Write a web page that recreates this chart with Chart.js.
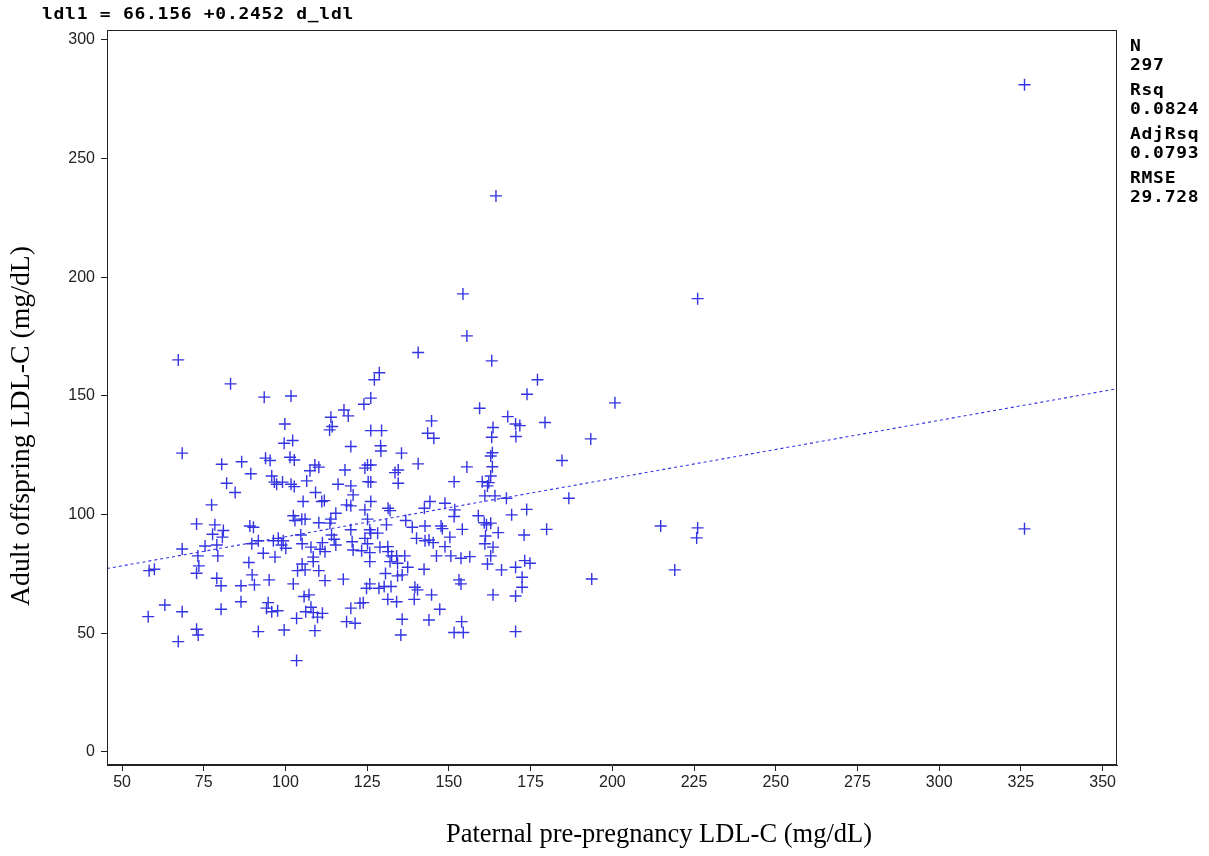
<!DOCTYPE html>
<html>
<head>
<meta charset="utf-8">
<script src="https://cdn.jsdelivr.net/npm/chart.js@4/dist/chart.umd.min.js"></script>
<style>
  html, body { margin: 0; padding: 0; background: #fff; }
  #plot { display: block; }
</style>
</head>
<body>
<canvas id="plot" width="1209" height="856"></canvas>
<script>
// Paternal pre-pregnancy LDL-C (x) and adult offspring LDL-C (y), mg/dL
const paternalLDL = [
  67.2, 83.2,
  93.5, 101.7, 117.9, 119.2, 113.9, 99.8, 114.3, 113.5, 102.2, 99.6, 120.0,
  140.6, 128.7, 127.2, 126.1, 124.0, 144.7, 143.5, 145.4, 126.1, 129.4, 129.1,
  163.1, 177.1, 173.9, 159.4, 168.0, 170.4, 171.7, 179.4, 163.5, 163.1, 170.5,
  68.4, 80.5, 86.6, 82.0, 84.6, 77.4, 72.8, 78.4, 81.0, 77.7, 80.7, 79.0, 75.4, 68.4, 73.2, 79.3,
  93.9, 95.3, 101.4, 102.7, 109.0, 110.2, 107.5, 118.2, 89.4, 95.8, 96.6, 97.3, 99.1, 101.7, 102.7,
  106.5, 116.1, 120.0, 109.2, 120.7, 105.4, 111.1, 111.9, 118.7, 120.0, 102.4, 102.9, 105.0, 106.0,
  113.9, 110.2, 115.4, 113.6, 89.1, 90.2, 120.0, 114.1, 104.7, 114.9, 91.7, 96.3, 97.8, 99.3, 98.8,
  89.7, 105.1, 107.8, 111.3, 115.4, 120.4, 100.1, 110.6, 112.1, 93.2, 96.8, 108.5, 120.7,
  129.2, 135.5, 125.1, 126.1, 124.3, 134.5, 133.5, 140.6, 125.3, 126.1, 134.5, 151.6,
  126.1, 131.4, 132.0, 124.3, 144.2, 148.8, 142.5, 151.8, 151.6, 125.1, 136.8, 147.6, 148.0, 142.7,
  154.1, 130.9, 138.8, 125.8, 126.1, 128.2, 140.1, 142.7, 143.9, 145.2, 150.3, 124.3, 125.1, 128.9,
  131.3, 148.8, 123.3, 125.8, 131.4, 132.5, 134.0, 136.5, 146.2, 150.6, 153.7,
  163.3, 162.8, 184.6, 155.5, 163.3, 162.8, 160.2, 162.2, 161.8, 161.0, 164.1, 167.6, 186.7, 159.0,
  169.2, 173.8, 160.8, 161.5, 162.8, 165.1, 179.9, 173.0, 161.2, 161.0, 163.5, 162.8, 156.4,
  58.3, 59.9, 73.5, 72.8, 79.0, 80.3, 86.4, 86.4, 63.1, 68.4, 80.3, 58.0, 72.8, 73.3, 67.2,
  88.8, 89.8, 90.5, 95.0, 102.4, 103.7, 106.0, 105.1, 108.5, 110.2, 112.1, 117.7, 105.7, 107.2, 94.7,
  94.2, 95.8, 97.6, 103.4, 106.2, 107.8, 108.5, 109.8, 111.3, 120.0, 118.7, 91.7, 99.6, 109.0, 103.4,
  125.8, 132.0, 134.3, 137.4, 142.4, 130.6, 134.3, 135.7, 125.8, 124.8, 128.6, 130.2, 132.3, 139.6,
  140.4, 144.7, 153.1, 153.7, 139.4, 131.3, 134.0, 122.8, 123.8, 147.2, 135.7, 143.9, 153.9, 121.3,
  151.6, 154.4, 135.3,
  161.8, 166.1, 170.4, 173.2, 174.8, 172.4, 172.4, 163.5, 170.4, 170.4,
  326.1, 164.4, 154.3, 155.5, 226.1, 200.8, 193.4, 214.8, 226.1, 225.8, 219.1, 193.7, 326.1
];
const offspringLDL = [
  165.2, 155.1,
  149.5, 150.0, 144.1, 141.6, 141.0, 138.2, 137.1, 135.7, 131.2, 130.1, 128.7,
  168.3, 159.8, 156.8, 149.1, 146.5, 139.5, 134.3, 132.2, 135.4, 135.4, 129.0,
  164.8, 156.8, 150.7, 144.8, 141.3, 138.2, 137.5, 138.8, 136.7, 132.6, 132.9,
  125.9, 121.2, 122.3, 113.2, 109.3, 104.1, 96.1, 95.7, 93.3, 91.7, 90.5, 87.2, 86.8, 85.5, 82.6, 82.6,
  123.8, 122.8, 124.2, 123.0, 120.9, 120.0, 118.5, 118.8, 117.2, 116.3, 113.7, 112.8, 113.7, 112.8, 111.8,
  114.2, 112.8, 112.1, 109.3, 108.3, 105.5, 105.5, 105.9, 104.1, 103.7, 99.5, 97.5, 98.1, 98.1,
  98.1, 96.6, 100.6, 96.4, 95.2, 94.7, 93.6, 91.4, 91.4, 89.6, 89.0, 89.0, 90.0, 89.0, 87.2,
  87.7, 87.7, 86.3, 88.2, 87.2, 88.6, 85.8, 85.4, 84.4, 83.7, 82.1, 82.1, 85.1,
  126.8, 125.9, 120.9, 120.9, 119.6, 118.8, 117.7, 121.4, 113.9, 113.7, 113.2, 113.9,
  105.5, 102.7, 101.7, 102.0, 105.5, 104.8, 102.7, 102.0, 99.2, 98.1, 97.5, 95.2, 94.1, 95.2,
  93.8, 95.7, 94.7, 93.6, 92.2, 92.2, 90.0, 89.0, 89.3, 88.2, 90.5, 90.0, 87.7, 86.3,
  86.5, 86.5, 84.8, 84.0, 84.4, 82.6, 82.6, 82.6, 82.6, 82.6, 81.6,
  126.1, 124.7, 122.8, 120.1, 120.2, 116.3, 113.9, 113.5, 112.1, 107.9, 107.9, 106.9, 106.9, 99.5,
  99.9, 102.2, 96.6, 95.7, 96.4, 92.4, 93.8, 91.4, 91.0, 87.7, 86.3, 82.6, 82.3,
  76.4, 77.0, 78.4, 75.3, 73.2, 70.0, 70.0, 63.3, 61.9, 59.1, 60.1, 57.0, 51.7, 49.3, 46.5,
  79.8, 74.6, 70.4, 72.5, 70.8, 76.4, 76.7, 79.2, 80.2, 76.4, 72.2, 72.8, 65.5, 66.2, 62.9,
  60.6, 59.1, 59.5, 56.3, 59.1, 61.0, 58.7, 56.8, 58.4, 60.6, 54.9, 50.7, 51.4, 51.1, 38.5,
  80.2, 80.2, 79.5, 77.8, 77.0, 75.2, 74.2, 74.6, 70.8, 69.0, 69.0, 69.7, 69.7, 69.4,
  68.3, 66.2, 72.5, 70.8, 64.3, 64.3, 63.3, 62.7, 62.9, 60.1, 55.9, 55.6, 54.9, 54.2,
  50.3, 50.3, 49.3,
  79.2, 76.7, 77.8, 80.6, 79.5, 73.6, 69.4, 66.2, 65.7, 50.7,
  281.1, 234.3, 193.0, 175.3, 191.0, 147.1, 131.9, 95.2, 94.4, 90.2, 76.7, 72.9, 94.0
];

// Fitted line ldl1 = 66.156 + 0.2452 * d_ldl
const fitIntercept = 66.156;
const fitSlope = 0.2452;
const equationText = 'ldl1 = 66.156 +0.2452 d_ldl';
const statLabels = ['N', 'Rsq', 'AdjRsq', 'RMSE'];
const statValues = ['297', '0.0824', '0.0793', '29.728'];
const xTitle = 'Paternal pre-pregnancy LDL-C (mg/dL)';
const yTitle = 'Adult offspring LDL-C (mg/dL)';

// Axis ranges and tick labels
const xMin = 45.4, xMax = 354.4;
const yMin = -5.5, yMax = 304.2;
const xTicks = [50, 75, 100, 125, 150, 175, 200, 225, 250, 275, 300, 325, 350];
const yTicks = [0, 50, 100, 150, 200, 250, 300];

const MARK = 'rgb(52,52,226)';
const SERIF = '"Liberation Serif", "Times New Roman", serif';
const SANS = '"Liberation Sans", Arial, sans-serif';

const points = paternalLDL.map((x, i) => ({x: x, y: offspringLDL[i]}));
const fitLine = [xMin, xMax].map(x => ({x: x, y: fitIntercept + fitSlope * x}));

// draws text stretched sideways, like the wide SAS output font
function wideText(ctx, str, x, y) {
  ctx.save();
  ctx.translate(x, y);
  ctx.scale(1.2, 1);
  ctx.fillText(str, 0, 0);
  ctx.restore();
}

// frame round the plot area, axis titles (off-centre like the original) and fit notes
const framePlugin = {
  id: 'frameAndNotes',
  afterDraw(chart) {
    const {ctx, chartArea: a} = chart;
    ctx.save();
    ctx.strokeStyle = '#222';
    ctx.lineWidth = 1;
    ctx.strokeRect(a.left + 0.5, a.top + 0.5, a.right - a.left - 1, a.bottom - a.top - 1);

    ctx.fillStyle = '#000';
    ctx.textBaseline = 'middle';
    ctx.textAlign = 'center';
    ctx.font = '26.5px ' + SERIF;
    ctx.fillText(xTitle, 659, 835);
    ctx.save();
    ctx.translate(22, 426);
    ctx.rotate(-Math.PI / 2);
    ctx.font = '27.8px ' + SERIF;
    ctx.fillText(yTitle, 0, 0);
    ctx.restore();

    ctx.font = 'bold 15px "DejaVu Sans Mono", monospace';
    ctx.letterSpacing = '0.6px';
    ctx.textAlign = 'left';
    wideText(ctx, equationText, 42, 15);

    let y = 47;
    statLabels.forEach((lab, i) => {
      wideText(ctx, lab, 1130, y);
      wideText(ctx, statValues[i], 1130, y + 19);
      y += 44;
    });
    ctx.restore();
  }
};

const chart = new Chart(document.getElementById('plot').getContext('2d'), {
  type: 'scatter',
  data: {
    datasets: [
      {
        label: 'ldl1',
        data: points,
        pointStyle: 'cross',
        pointRadius: 6,
        pointBorderWidth: 1.4,
        borderColor: MARK,
        backgroundColor: MARK,
        showLine: false
      },
      {
        label: 'fit',
        type: 'line',
        data: fitLine,
        borderColor: MARK,
        borderWidth: 1.1,
        borderDash: [3, 3],
        pointRadius: 0,
        fill: false
      }
    ]
  },
  options: {
    responsive: false,
    animation: false,
    devicePixelRatio: 1,
    layout: {padding: {top: 30, right: 92, left: 0, bottom: 0}},
    plugins: {
      legend: {display: false},
      tooltip: {enabled: false}
    },
    scales: {
      x: {
        type: 'linear',
        min: xMin,
        max: xMax,
        afterFit: s => { s.height = 91; },
        afterBuildTicks: s => { s.ticks = xTicks.map(v => ({value: v})); },
        grid: {drawOnChartArea: false, drawTicks: true, tickLength: 6, color: '#222'},
        border: {display: true, color: '#222'},
        ticks: {
          color: '#222',
          padding: 2,
          maxRotation: 0,
          font: {family: SANS, size: 16}
        },
        title: {display: false}
      },
      y: {
        type: 'linear',
        min: yMin,
        max: yMax,
        afterFit: s => { s.width = 107; },
        afterBuildTicks: s => { s.ticks = yTicks.map(v => ({value: v})); },
        grid: {drawOnChartArea: false, drawTicks: true, tickLength: 6, color: '#222'},
        border: {display: true, color: '#222'},
        ticks: {
          color: '#222',
          padding: 6,
          font: {family: SANS, size: 16}
        },
        title: {display: false}
      }
    }
  },
  plugins: [framePlugin]
});
</script>
</body>
</html>
